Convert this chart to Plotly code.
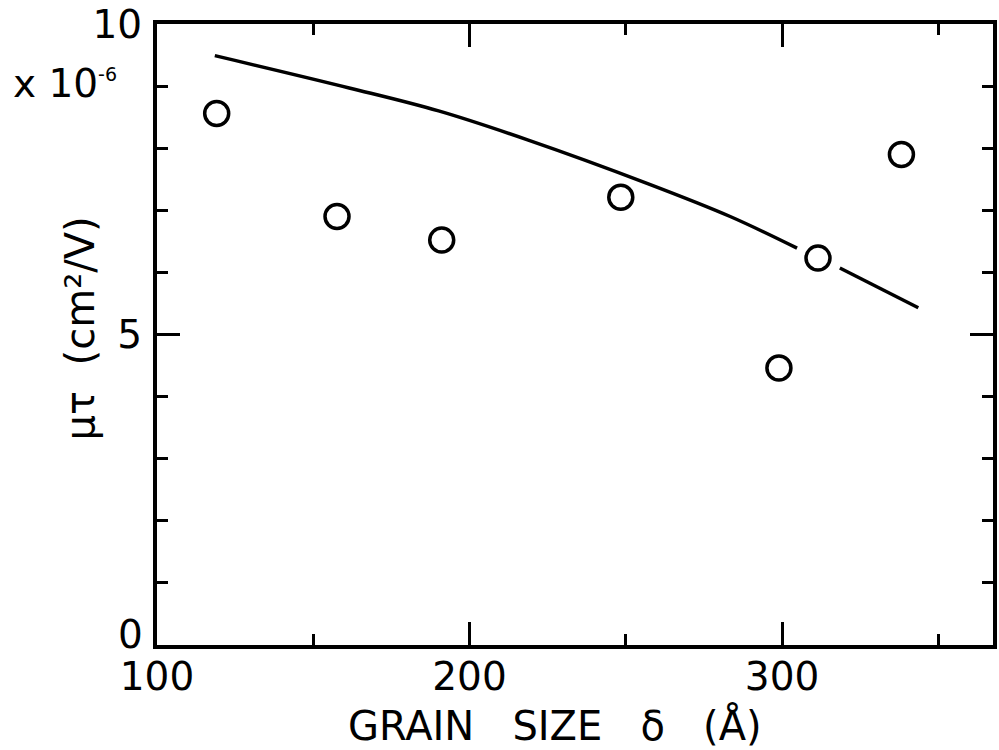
import plotly.graph_objects as go

# Measured data points (grain size in Å, mu*tau in 1e-6 cm^2/V)
grain_size = [119.1, 157.6, 191.1, 248.4, 299.0, 311.5, 338.2]
mu_tau = [8.56, 6.90, 6.52, 7.21, 4.46, 6.23, 7.90]

# Theoretical curve (gap where it passes the circle near 312 Å)
curve_x = [118.5, 161.5, 190.1, 218.8, 257.0, 283.4, 304.8, None, 318.5, 343.6]
curve_y = [9.49, 8.97, 8.60, 8.13, 7.43, 6.90, 6.39, None, 6.07, 5.43]

x_ticks = [100, 200, 300]
y_ticks = [0, 5, 10]
y_tick_labels = ["", "5", "10"]   # the "0" label sits a bit above the corner
y_zero_label = "0"

FONT = "DejaVu Sans"

fig = go.Figure()
fig.add_trace(go.Scatter(
    x=curve_x, y=curve_y, mode="lines", connectgaps=False,
    line=dict(color="black", width=3.5, shape="spline", smoothing=1.0),
    hoverinfo="skip", showlegend=False))
fig.add_trace(go.Scatter(
    x=grain_size, y=mu_tau, mode="markers",
    marker=dict(symbol="circle-open", size=24, color="black",
                line=dict(width=3.5, color="black")),
    showlegend=False))

axis_common = dict(
    showline=True, linecolor="black", linewidth=4, mirror="allticks",
    ticks="inside", ticklen=23, tickwidth=3, tickcolor="black",
    showgrid=False, zeroline=False, ticklabeloverflow="allow",
    tickfont=dict(family=FONT, size=39, color="black"),
)

fig.update_xaxes(range=[100, 367.5], tickvals=x_ticks,
                 ticktext=[str(v) for v in x_ticks],
                 minor=dict(dtick=50, tick0=100, ticks="inside", ticklen=11,
                            tickwidth=3, tickcolor="black", showgrid=False),
                 ticklabelstandoff=-6, **axis_common)
fig.update_yaxes(range=[0, 10], tickvals=y_ticks, ticktext=y_tick_labels,
                 minor=dict(dtick=1, tick0=0, ticks="inside", ticklen=11,
                            tickwidth=3, tickcolor="black", showgrid=False),
                 ticklabelstandoff=3, **axis_common)

NB = "\u00a0"
fig.add_annotation(
    text=y_zero_label, xref="paper", y=y_ticks[0], yref="y",
    x=(145 - 157) / 840, xanchor="right", yanchor="middle", yshift=11,
    showarrow=False, font=dict(family=FONT, size=39, color="black"))
fig.add_annotation(
    text=f"GRAIN{NB*3}SIZE{NB*3}δ{NB*3}(Å)", xref="paper", yref="paper",
    x=(557 - 157) / 840, y=(645 - 726) / 623, xanchor="center", yanchor="middle",
    showarrow=False, font=dict(family=FONT, size=40, color="black"))
fig.add_annotation(
    text=f"μτ{NB*2}(cm²/V)", xref="paper", yref="paper", textangle=-90,
    x=(80 - 157) / 840, y=(645 - 327) / 623, xanchor="center", yanchor="middle",
    showarrow=False, font=dict(family=FONT, size=40, color="black"))
fig.add_annotation(
    text=f"x{NB}10<sup><span style='font-size:19px'>-6</span></sup>",
    xref="paper", yref="paper",
    x=(119 - 157) / 840, y=(645 - 82) / 623, xanchor="right", yanchor="middle",
    showarrow=False, font=dict(family=FONT, size=39, color="black"))

fig.update_layout(
    width=999, height=750,
    margin=dict(l=157, r=2, t=22, b=105),
    paper_bgcolor="white", plot_bgcolor="white",
    showlegend=False,
)

fig.write_html("out.html")
